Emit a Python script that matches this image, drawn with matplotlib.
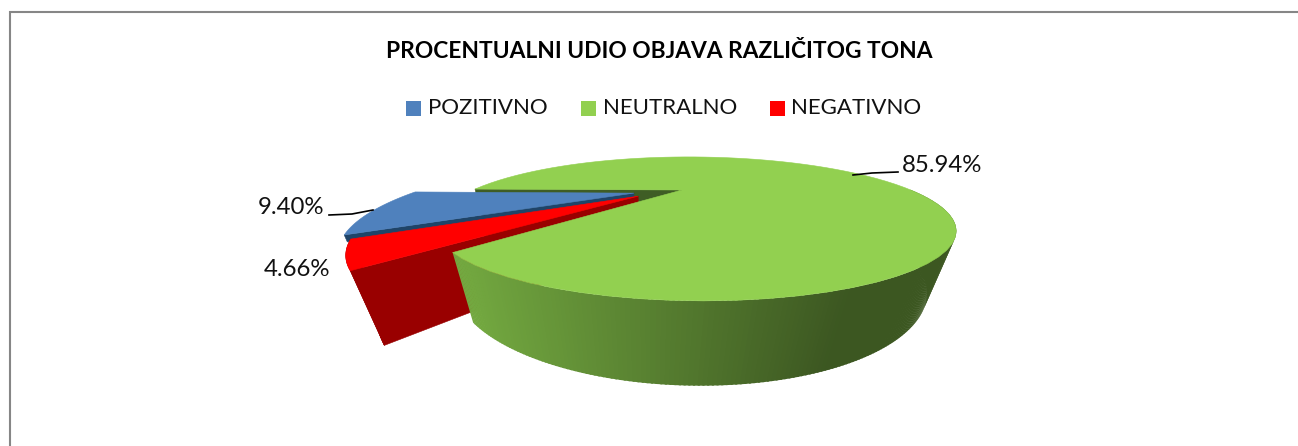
import numpy as np
import matplotlib
matplotlib.use('Agg')
import matplotlib.pyplot as plt
from matplotlib.patches import Polygon, Rectangle

plt.rcParams['font.family'] = ['Lato', 'DejaVu Sans']

# Data
labels = ['POZITIVNO', 'NEUTRALNO', 'NEGATIVNO']
shares = [9.40, 85.94, 4.66]
share_text = ['9.40%', '85.94%', '4.66%']
colors = ['#4f81bd', '#92d050', '#ff0000']
dark_colors = ['#1f4468', '#3f5d25', '#990000']

# Perspective of the pie, measured on the picture in pixels
apex = np.array([682.0, 190.0])
A, B, k, j = 218.5, 50.9, 0.54, -0.045
drop = np.array([-32.0, 737.0])
depth = 0.0718
neutral_start = 229.5
# Pulled out slices: shift on the disc and radius
poz_off, poz_r = (-0.215, -0.06), 1.05
neg_off, neg_r = (-0.19, -0.115), 1.015


def project(x, y, z=0.0):
    w = 1 + k * y + j * x + z
    px = apex[0] + (A * x + drop[0] * z) / w
    py = apex[1] + (-B * y + drop[1] * z) / w
    return np.column_stack([px, py])


def arc(a0, a1, off=(0, 0), r=1.0, z=0.0, n=80):
    t = np.radians(np.linspace(a0, a1, n))
    return project(r * np.cos(t) + off[0], r * np.sin(t) + off[1], z)


def top_face(a0, a1, off=(0, 0), r=1.0):
    return np.vstack([project(off[0], off[1]), arc(a0, a1, off, r)])


def radial_wall(a, off=(0, 0), r=1.0, z=depth):
    t = np.radians(a)
    x = np.array([off[0], off[0] + r * np.cos(t)])
    y = np.array([off[1], off[1] + r * np.sin(t)])
    return np.vstack([project(x, y), project(x, y, z)[::-1]])


def rim_wall(a0, a1, off=(0, 0), r=1.0):
    return np.vstack([arc(a0, a1, off, r), arc(a0, a1, off, r, depth)[::-1]])


# Slice angles come from the shares: neutral first, then positive, then negative
sweep = [s * 3.6 for s in shares]
neu0, neu1 = neutral_start, neutral_start + sweep[1]
poz0, poz1 = neu1, neu1 + sweep[0]
neg0, neg1 = poz1, poz1 + sweep[2]

fig = plt.figure(figsize=(12.98, 4.46), dpi=100)
ax = fig.add_axes([0, 0, 1, 1])
ax.set_xlim(0, 1298)
ax.set_ylim(446, 0)
ax.axis('off')


def face(points, color, z, lw=0.4):
    ax.add_patch(Polygon(points, closed=True, facecolor=color, edgecolor=color,
                         linewidth=lw, zorder=z))


# Chart frame, only the top and left sides are in the picture
ax.plot([10, 10, 1298], [446, 12, 12], color='#868686', lw=1.5, zorder=1,
        solid_joinstyle='miter')

# Back to front
face(radial_wall(neu1), dark_colors[1], 2)
# only a thin strip of the blue wall shows above the red slice
face(radial_wall(poz1, poz_off, poz_r, z=depth * 0.1), dark_colors[0], 3)
face(top_face(poz0, poz1, poz_off, poz_r), colors[0], 4)
face(rim_wall(neg0, neg1, neg_off, neg_r), dark_colors[2], 5)
face(radial_wall(neg1, neg_off, neg_r), dark_colors[2], 5)
face(top_face(neg0, neg1, neg_off, neg_r), colors[2], 6)

# Green rim, shaded left to right
edges = np.linspace(neu0, 360, 200)
light = np.array([0.45, 0.66, 0.25])
dark = np.array([0.235, 0.34, 0.13])
for a0, a1 in zip(edges[:-1], edges[1:]):
    wall = rim_wall(a0, a1 + 0.3)
    f = np.clip((wall[:, 0].mean() - 470) / 370, 0, 1)
    face(wall, light + (dark - light) * f, 7, lw=0)
face(top_face(neu0, neu1), colors[1], 8)

# Leader lines
ax.plot([853, 872, 898], [175, 173, 172], color='black', lw=1.2, zorder=9)
ax.plot([373, 352, 329], [210, 214, 215], color='black', lw=1.2, zorder=9)

# Data labels
ax.text(942, 166, share_text[1], fontsize=17.3, ha='center', va='center', color='#111111')
ax.text(291, 207, share_text[0], fontsize=17.3, ha='center', va='center', color='#111111')
ax.text(297, 270, share_text[2], fontsize=17.3, ha='center', va='center', color='#111111')

# Title and legend
ax.text(659.5, 52, 'PROCENTUALNI UDIO OBJAVA RAZLIČITOG TONA', fontsize=16.4,
        fontweight='bold', ha='center', va='center', color='black')
legend_box = [406, 581, 770]
legend_text = [428, 603, 791]
for x_box, x_txt, name, col in zip(legend_box, legend_text, labels, colors):
    ax.add_patch(Rectangle((x_box, 101), 15, 15, facecolor=col, edgecolor='none', zorder=3))
    ax.text(x_txt, 108, name, fontsize=16, ha='left', va='center', color='#111111')

fig.savefig('out.png', dpi=100)
